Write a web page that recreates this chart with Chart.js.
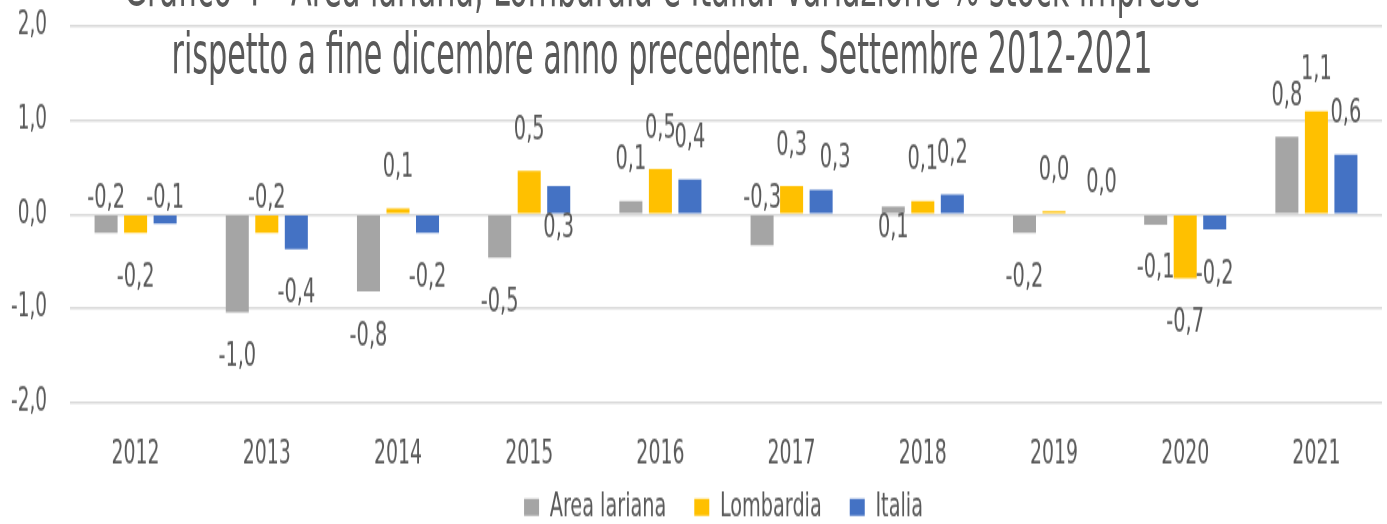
<!DOCTYPE html>
<html>
<head>
<meta charset="utf-8">
<script src="https://cdn.jsdelivr.net/npm/chart.js@4.4.1/dist/chart.umd.min.js"></script>
<style>
  html, body { margin: 0; padding: 0; background: #fff; overflow: hidden; }
  #wrap { position: relative; width: 1387px; height: 524px; overflow: hidden; }
  #chart { position: absolute; left: 0; top: 0; transform-origin: 0 0; }
  #title {
    position: absolute; left: 0; top: -47px; width: 1324px;
    text-align: center; color: #595959; white-space: nowrap;
    font-family: "Liberation Sans Narrow", "DejaVu Sans Condensed", "Liberation Sans", sans-serif;
    font-size: 33.6px; line-height: 39px;
    transform-origin: 0 0; transform: scaleY(1.72);
  }
</style>
</head>
<body>
<div id="wrap">
  <canvas id="chart" width="1387" height="348"></canvas>
  <div id="title">
    <div>Grafico 4 - Area lariana, Lombardia e Italia: variazione % stock imprese</div>
    <div>rispetto a fine dicembre anno precedente. Settembre 2012-2021</div>
  </div>
</div>
<script>
// dati
const anni = ["2012", "2013", "2014", "2015", "2016", "2017", "2018", "2019", "2020", "2021"];
const areaLariana = [-0.2, -1.04, -0.82, -0.46, 0.14, -0.33, 0.08, -0.2, -0.11, 0.82];
const lombardia = [-0.2, -0.2, 0.06, 0.46, 0.48, 0.30, 0.14, 0.03, -0.68, 1.09];
const italia = [-0.1, -0.37, -0.2, 0.30, 0.37, 0.26, 0.21, 0.0, -0.16, 0.63];
const yTicks = [-2, -1, 0, 1, 2];

// etichette spostate dall'altra parte dello zero (come nel grafico originale)
const flipArea = [true, false, false, false, false, true, true, false, false, false];
const flipLomb = [false, true, false, false, false, false, false, false, false, false];
const flipIta = [true, false, false, true, false, false, false, false, false, false];
// piccoli spostamenti orizzontali delle etichette sovrapposte (Italia 2017 e 2019)
const shiftIta = [0, 0, 0, 0, 0, 14, 0, 18, 0, 0];
const noShift = anni.map(() => 0);

// il grafico originale è "stirato" in verticale
const STRETCH = 1.55;
const FONT = '"Liberation Sans Narrow", "DejaVu Sans Condensed", "Liberation Sans", sans-serif';
const TEXT = "#595959";

document.getElementById("chart").style.transform = "scaleY(" + STRETCH + ")";

const fmt = v => v.toFixed(1).replace(".", ",").replace("-0,0", "0,0");

// etichette dati
const valueLabels = {
    id: "valueLabels",
    afterDatasetsDraw(chart) {
        const ctx = chart.ctx;
        ctx.save();
        ctx.font = "21.5px " + FONT;
        ctx.fillStyle = TEXT;
        ctx.textAlign = "center";
        ctx.textBaseline = "middle";
        chart.data.datasets.forEach((ds, i) => {
            const meta = chart.getDatasetMeta(i);
            meta.data.forEach((bar, j) => {
                const v = ds.data[j];
                const flip = ds.flip[j];
                const dx = ds.shift[j];
                let y;
                if (v >= 0) y = flip ? bar.base + 10 : bar.y - (dx ? 20 : 26);
                else y = flip ? bar.base - 10 : bar.y + 29;
                ctx.fillText(fmt(v), bar.x + dx, y);
            });
        });
        ctx.restore();
    }
};

// legenda spostata a destra come nell'originale
const legendShift = {
    id: "legendShift",
    afterLayout(chart) {
        chart.legend.left += 30;
        chart.legend.right += 30;
    }
};

new Chart(document.getElementById("chart"), {
    type: "bar",
    data: {
        labels: anni,
        datasets: [
            { label: "Area lariana", data: areaLariana, flip: flipArea, shift: noShift, backgroundColor: "#a5a5a5" },
            { label: "Lombardia", data: lombardia, flip: flipLomb, shift: noShift, backgroundColor: "#ffc000" },
            { label: "Italia", data: italia, flip: flipIta, shift: shiftIta, backgroundColor: "#4472c4" }
        ]
    },
    options: {
        responsive: false,
        animation: false,
        devicePixelRatio: 1,
        categoryPercentage: 0.675,
        barPercentage: 0.78,
        layout: { padding: { left: 5, right: 5, top: 16.5, bottom: 0 } },
        scales: {
            x: {
                afterFit: s => {
                    s.height = 28.7;
                    s._computeLabelArea = () => null; // niente clip: le etichette sconfinano nella legenda
                },
                grid: { display: false, drawTicks: false },
                border: { display: false },
                ticks: { color: TEXT, font: { family: FONT, size: 21 }, padding: 21 }
            },
            y: {
                min: -2,
                max: 2,
                afterBuildTicks: s => { s.ticks = yTicks.map(v => ({ value: v })); },
                afterFit: s => {
                    s.width = 65;
                    s.paddingTop = 0;
                    s.paddingBottom = 0;
                },
                grid: { color: "#d9d9d9", lineWidth: 1.4, drawTicks: false },
                border: { display: false },
                ticks: {
                    color: TEXT, font: { family: FONT, size: 20.5 }, padding: 23,
                    callback: v => fmt(v)
                }
            }
        },
        plugins: {
            legend: {
                position: "bottom",
                labels: {
                    color: TEXT, font: { family: FONT, size: 21.4 },
                    boxWidth: 15, boxHeight: 11, padding: 28
                }
            },
            tooltip: { enabled: false }
        }
    },
    plugins: [valueLabels, legendShift]
});
</script>
</body>
</html>
